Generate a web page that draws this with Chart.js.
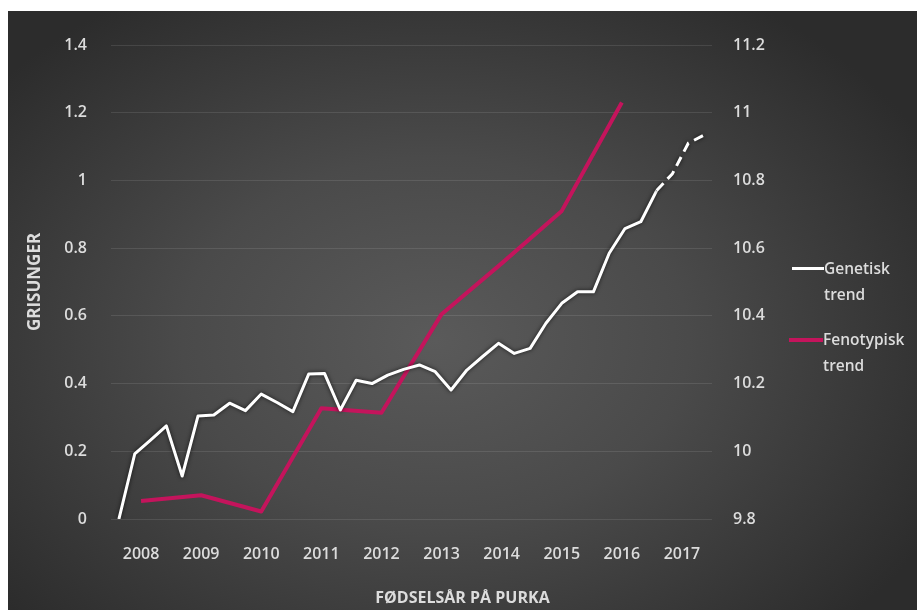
<!DOCTYPE html>
<html>
<head>
<meta charset="utf-8">
<script src="https://cdn.jsdelivr.net/npm/chart.js@4/dist/chart.umd.min.js"></script>
<style>
  body { margin: 0; background: #fff; }
  #wrap {
    position: absolute; left: 8px; top: 11px; width: 909px; height: 599px;
    background: radial-gradient(ellipse 62% 68% at 47% 55%, #5a5a5a 0%, #4a4a4a 45%, #2c2c2c 100%);
    font-family: "Open Sans", sans-serif; color: #dcdcdc;
  }
  #chart { position: absolute; left: 0; top: 0; }
  .leg { position: absolute; font-size: 15.5px; line-height: 26px; font-weight: 600; }
  .sw { position: absolute; }
  #xtitle { position: absolute; left: 0; width: 909px; top: 576px; text-align: center;
    font-weight: bold; font-size: 16px; line-height: 20px; }
</style>
</head>
<body>
<div id="wrap">
  <canvas id="chart" width="909" height="599"></canvas>
  <div class="sw" style="left:784px;top:256px;width:32px;height:3px;background:#ffffff"></div>
  <div class="leg" style="left:816px;top:244px">Genetisk<br>trend</div>
  <div class="sw" style="left:781px;top:327px;width:34px;height:4px;background:#c4145c"></div>
  <div class="leg" style="left:815px;top:315px">Fenotypisk<br>trend</div>
  <div id="xtitle">FØDSELSÅR PÅ PURKA</div>
</div>
<script>
// år (synlig x-akse) og fenotypisk trend, høyre akse
const aar = ['2008', '2009', '2010', '2011', '2012', '2013', '2014', '2015', '2016', '2017'];
const fenotypisk = [9.853, 9.87, 9.822, 10.127, 10.114, 10.405, 10.555, 10.71, 11.03, null];

// kvartaler (skjult x-akse) og genetisk trend, venstre akse
const kvartal = [
    '2007-3', '2007-4',
    '2008-1', '2008-2', '2008-3', '2008-4',
    '2009-1', '2009-2', '2009-3', '2009-4',
    '2010-1', '2010-2', '2010-3', '2010-4',
    '2011-1', '2011-2', '2011-3', '2011-4',
    '2012-1', '2012-2', '2012-3', '2012-4',
    '2013-1', '2013-2', '2013-3', '2013-4',
    '2014-1', '2014-2', '2014-3', '2014-4',
    '2015-1', '2015-2', '2015-3', '2015-4',
    '2016-1', '2016-2', '2016-3', '2016-4'
];
const genetisk = [
    0.0, 0.192, 0.233, 0.275, 0.127, 0.304, 0.307, 0.342, 0.32, 0.369,
    0.344, 0.317, 0.428, 0.43, 0.322, 0.41, 0.40, 0.425, 0.442, 0.455,
    0.435, 0.381, 0.44, 0.48, 0.519, 0.489, 0.504, 0.578, 0.637, 0.671,
    0.671, 0.785, 0.858, 0.878, 0.97, 1.02, 1.11, 1.134
];
const prognoseFra = 34;

const tickColor = '#dcdcdc';
const tickFont = { family: 'Open Sans', size: 16, weight: '600' };

const shadow = {
    id: 'shadow',
    beforeDatasetDraw(chart, args) {
        if (args.index === 0) {
            const c = chart.ctx;
            c.save();
            c.shadowColor = 'rgba(0,0,0,0.7)';
            c.shadowBlur = 4;
        }
    },
    afterDatasetDraw(chart, args) {
        if (args.index === 0) chart.ctx.restore();
    }
};

const ctx = document.getElementById('chart').getContext('2d');
new Chart(ctx, {
    type: 'line',
    data: {
        datasets: [
            {
                label: 'Genetisk trend',
                data: genetisk,
                xAxisID: 'x2',
                yAxisID: 'y',
                borderColor: '#ffffff',
                borderWidth: 3,
                pointRadius: 0,
                borderJoinStyle: 'round',
                segment: {
                    borderDash: c => c.p0DataIndex >= prognoseFra ? [10, 6] : undefined
                }
            },
            {
                label: 'Fenotypisk trend',
                data: fenotypisk,
                xAxisID: 'x',
                yAxisID: 'y1',
                borderColor: '#c4145c',
                borderWidth: 4,
                pointRadius: 0,
                borderJoinStyle: 'round'
            }
        ]
    },
    options: {
        responsive: false,
        animation: false,
        layout: { padding: { top: 34, left: 0, right: 0, bottom: 0 } },
        plugins: { legend: { display: false }, tooltip: { enabled: false } },
        scales: {
            x: {
                type: 'category',
                labels: aar,
                offset: true,
                position: 'bottom',
                grid: { display: false },
                border: { display: false },
                ticks: { color: tickColor, font: tickFont, padding: 18, maxRotation: 0 },
                afterFit: s => { s.height = 91; }
            },
            x2: {
                type: 'category',
                labels: kvartal,
                offset: true,
                display: false
            },
            y: {
                position: 'left',
                min: 0,
                max: 1.4,
                ticks: {
                    stepSize: 0.2, color: tickColor, font: tickFont, padding: 24,
                    callback: v => String(+v.toFixed(1))
                },
                grid: { color: 'rgba(255,255,255,0.1)', drawTicks: false },
                border: { display: false },
                title: {
                    display: true, text: 'GRISUNGER', color: tickColor,
                    font: { family: 'Open Sans', size: 17, weight: 'bold' },
                    padding: { top: 17, bottom: 0 }
                },
                afterFit: s => { s.width = 103; }
            },
            y1: {
                position: 'right',
                min: 9.8,
                max: 11.2,
                ticks: {
                    stepSize: 0.2, color: tickColor, font: tickFont, padding: 21,
                    callback: v => String(+v.toFixed(1))
                },
                grid: { display: false, drawTicks: false },
                border: { display: false },
                afterFit: s => { s.width = 205; }
            }
        }
    },
    plugins: [shadow]
});
</script>
</body>
</html>
